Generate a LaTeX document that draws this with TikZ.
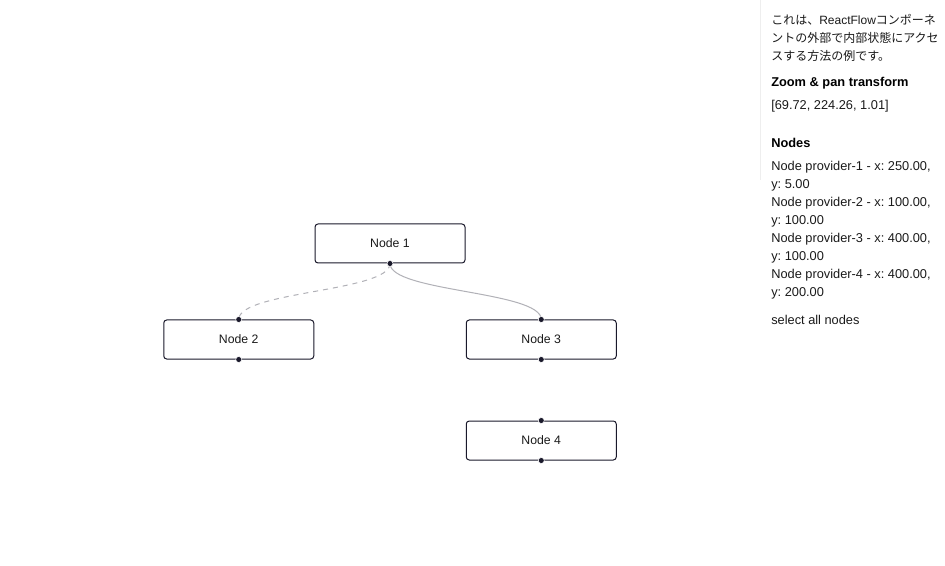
\documentclass[tikz,border=0pt]{standalone}
\usepackage{fontspec}
\setmainfont{Liberation Sans}
\newfontfamily\jp{Noto Sans CJK JP}
\definecolor{nodeborder}{HTML}{1A192B}
\definecolor{edgecol}{HTML}{B1B1B7}
\definecolor{txt}{HTML}{1A1A1A}
\definecolor{sideline}{HTML}{EEEEEE}
\frenchspacing
\begin{document}
\begin{tikzpicture}[x=0.75pt,y=-0.75pt,
  rfnode/.style={draw=nodeborder, fill=white, rounded corners=2.25pt, line width=0.75pt,
    minimum width=112.5pt, minimum height=29.25pt, inner sep=0pt,
    font=\fontsize{9.2}{11}\selectfont, text=txt},
  handle/.style={circle, fill=nodeborder, draw=white, line width=0.4pt, minimum size=4.5pt, inner sep=0pt},
  edge/.style={draw=edgecol, line width=0.75pt},
  side/.style={anchor=base west, inner sep=0pt, text=txt, font=\fontsize{9.6}{11}\selectfont},
  sidejp/.style={anchor=base west, inner sep=0pt, text=txt, font=\fontsize{9}{11}\selectfont},
  sidehead/.style={anchor=base west, inner sep=0pt, text=black, font=\fontsize{9.6}{11}\selectfont\bfseries}
]
\useasboundingbox (0,0) rectangle (945,566);
\fill[white] (0,0) rectangle (945,566);

% sidebar border
\coordinate (sbtop) at (760.5,0);
\coordinate (sbbot) at (760.5,180);
\draw[sideline, line width=0.75pt] (sbtop) -- (sbbot);

% nodes
\node[rfnode] (n1) at (390,243.5) {Node 1};
\node[rfnode] (n2) at (238.75,339.5) {Node 2};
\node[rfnode] (n3) at (541.25,339.5) {Node 3};
\node[rfnode] (n4) at (541.25,440.5) {Node 4};

% edges
\draw[edge, dash pattern=on 3.75pt off 3.75pt] (n1.south) .. controls +(0,28.5) and +(0,-28.5) .. (n2.north);
\draw[edge] (n1.south) .. controls +(0,28.5) and +(0,-28.5) .. (n3.north);

% handles
\node[handle] (h1b) at (n1.south) {};
\node[handle] (h2t) at (n2.north) {};
\node[handle] (h2b) at (n2.south) {};
\node[handle] (h3t) at (n3.north) {};
\node[handle] (h3b) at (n3.south) {};
\node[handle] (h4t) at (n4.north) {};
\node[handle] (h4b) at (n4.south) {};

% sidebar text
\node[sidejp] (t1) at (771,24.5) {{\jp これは、}ReactFlow{\jp コンポーネ}};
\node[sidejp] (t2) at (771,42.5) {\jp ントの外部で内部状態にアクセ};
\node[sidejp] (t3) at (771,60.5) {\jp スする方法の例です。};
\node[sidehead] (h1) at (771,86.5) {Zoom \& pan transform};
\node[side] (tr) at (771,110) {[69.72, 224.26, 1.01]};
\node[sidehead] (h2) at (771,147.5) {Nodes};
\node[side] (p1) at (771,170.5) {Node provider-1 - x: 250.00,};
\node[side] (p1y) at (771,188.5) {y: 5.00};
\node[side] (p2) at (771,206.5) {Node provider-2 - x: 100.00,};
\node[side] (p2y) at (771,224.5) {y: 100.00};
\node[side] (p3) at (771,242.5) {Node provider-3 - x: 400.00,};
\node[side] (p3y) at (771,260.5) {y: 100.00};
\node[side] (p4) at (771,278.5) {Node provider-4 - x: 400.00,};
\node[side] (p4y) at (771,296.5) {y: 200.00};
\node[side] (sel) at (771,324.5) {select all nodes};
\end{tikzpicture}
\end{document}
